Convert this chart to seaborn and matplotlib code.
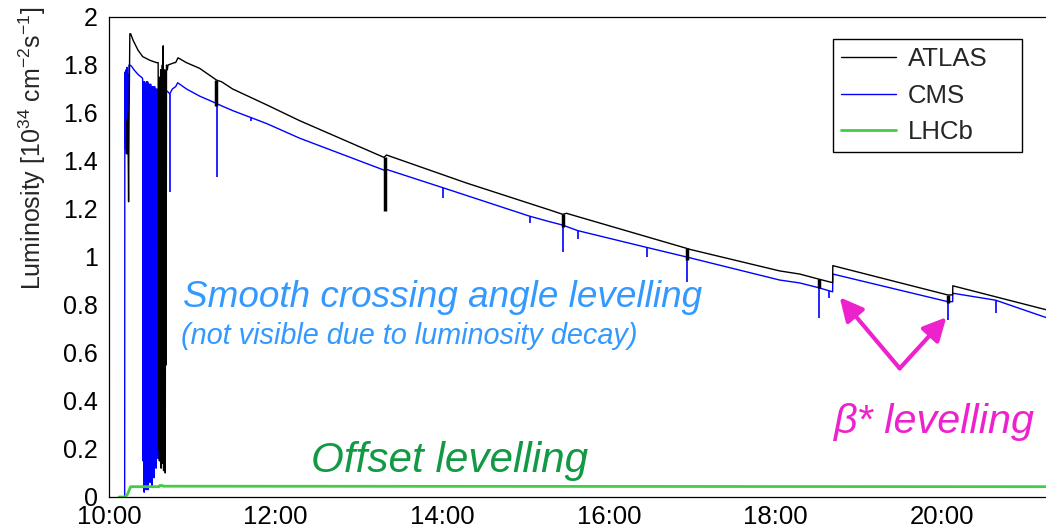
import numpy as np
import pandas as pd
import matplotlib
matplotlib.use("Agg")
import matplotlib.pyplot as plt
import seaborn as sns
from matplotlib.lines import Line2D

# ---------------- data (hours of day, luminosity in 1e34 cm^-2 s^-1) ----------------
atlas_time = [10.215, 10.22, 10.225, 10.23, 10.235, 10.24, 10.25, 10.26, 10.288, 10.348, 10.404, 10.488, 10.568,
              10.59, 10.595, 10.60, 10.605, 10.61, 10.615, 10.62, 10.625, 10.63, 10.635, 10.64, 10.645,
              10.65, 10.655, 10.66, 10.665, 10.67, 10.675, 10.68, 10.685, 10.69, 10.70,
              10.708, 10.788, 10.80, 10.828, 10.928, 11.088, 11.289, 11.352, 11.484, 11.892, 12.288,
              13.30, 13.33, 14.292, 15.288, 15.444, 15.49, 16.932, 16.968, 18.048, 18.288, 18.516,
              18.684, 18.686, 20.064, 20.124, 20.126, 21.26]
atlas_lumi = [1.57, 1.43, 1.60, 1.45, 1.23, 1.55, 1.93, 1.93, 1.904, 1.862, 1.835, 1.82, 1.81,
              1.81, 0.20, 1.75, 0.15, 1.70, 0.18, 1.78, 0.12, 1.72, 0.14, 1.80, 0.16,
              1.88, 0.11, 1.75, 0.13, 1.78, 0.10, 1.77, 0.55, 1.80, 1.78,
              1.80, 1.81, 1.81, 1.83, 1.81, 1.786, 1.7375, 1.73, 1.70, 1.634, 1.568,
              1.415, 1.425, 1.308, 1.196, 1.178, 1.182, 1.036, 1.032, 0.942, 0.929, 0.908,
              0.893, 0.964, 0.842, 0.842, 0.88, 0.779]

cms_time = [10.188, 10.19, 10.20, 10.205, 10.21, 10.215, 10.22, 10.225, 10.23, 10.24, 10.25, 10.27, 10.30, 10.35, 10.40,
            10.404, 10.410, 10.416, 10.422, 10.428, 10.434, 10.440, 10.446, 10.452, 10.458, 10.464, 10.470,
            10.476, 10.482, 10.488, 10.494, 10.500, 10.506, 10.512, 10.518, 10.524, 10.530, 10.536, 10.542,
            10.548, 10.554, 10.560, 10.566, 10.572, 10.578, 10.584, 10.590, 10.596, 10.602, 10.608,
            10.62, 10.66, 10.70, 10.73, 10.76, 10.80, 10.824, 10.93, 11.09, 11.289, 11.35, 11.484, 11.892,
            12.288, 13.30, 13.33, 14.004, 15.048, 15.288, 15.444, 15.624, 16.452, 16.932, 18.048, 18.288,
            18.516, 18.684, 18.686, 20.064, 20.124, 20.126, 20.64, 21.26]
cms_lumi = [0.0, 1.77, 1.45, 1.78, 1.43, 1.79, 1.50, 1.76, 1.55, 1.80, 1.80, 1.795, 1.78, 1.76, 1.746,
            1.74, 0.15, 1.73, 0.02, 1.73, 0.60, 1.72, 0.03, 1.73, 0.25, 1.73, 0.03,
            1.72, 0.45, 1.72, 0.06, 1.72, 0.30, 1.71, 0.04, 1.71, 0.10, 1.71, 0.08,
            1.71, 0.20, 1.70, 0.12, 1.70, 0.35, 1.70, 0.16, 1.69, 0.90, 1.69,
            1.69, 1.70, 1.69, 1.68, 1.70, 1.71, 1.726, 1.70, 1.67, 1.64, 1.63, 1.61, 1.556,
            1.495, 1.362, 1.365, 1.289, 1.17, 1.147, 1.133, 1.11, 1.04, 1.0, 0.904, 0.892,
            0.872, 0.855, 0.929, 0.814, 0.814, 0.849, 0.82, 0.746]

lhcb_time = [10.12, 10.19, 10.22, 10.26, 10.60, 10.61, 10.64, 10.65, 21.26]
lhcb_lumi = [0.0, 0.0, 0.01, 0.043, 0.043, 0.048, 0.048, 0.045, 0.043]

# short drops (time, lowest value)
cms_dip_time = [10.73, 11.292, 11.70, 11.77, 13.308, 14.004, 15.048, 15.444, 15.624, 16.452, 16.932,
                18.516, 18.636, 20.064, 20.64]
cms_dip_low = [1.27, 1.335, 1.565, 1.57, 1.19, 1.245, 1.14, 1.022, 1.075, 1.00, 0.897,
               0.745, 0.83, 0.738, 0.768]
atlas_dip_time = [11.29, 13.31, 15.444, 16.932, 18.516, 20.064]
atlas_dip_low = [1.63, 1.19, 1.126, 0.988, 0.87, 0.81]

series_names = ["ATLAS", "CMS", "LHCb"]
series_colors = ["#000000", "#0000ff", "#44cc44"]

x_tick_hours = [10, 12, 14, 16, 18, 20]
x_tick_labels = ["10:00", "12:00", "14:00", "16:00", "18:00", "20:00"]
y_tick_values = [0, 0.2, 0.4, 0.6, 0.8, 1.0, 1.2, 1.4, 1.6, 1.8, 2.0]
y_tick_labels = ["0", "0.2", "0.4", "0.6", "0.8", "1", "1.2", "1.4", "1.6", "1.8", "2"]

# ---------------- styling ----------------
sns.set_style("white")
plt.rcParams["font.family"] = ["Liberation Sans", "DejaVu Sans"]
plt.rcParams["mathtext.fontset"] = "custom"
plt.rcParams["mathtext.rm"] = "Liberation Sans"
plt.rcParams["mathtext.it"] = "Liberation Sans:italic"

W, H = 1046, 529
fig = plt.figure(figsize=(W / 100, H / 100), dpi=100)
x0, ybot, ytop = 109, 497, 17
ax = fig.add_axes([x0 / W, (H - ybot) / H, (W - x0) / W, (ybot - ytop) / H])

df_cms = pd.DataFrame({"t": cms_time, "L": cms_lumi})
df_atlas = pd.DataFrame({"t": atlas_time, "L": atlas_lumi})
df_lhcb = pd.DataFrame({"t": lhcb_time, "L": lhcb_lumi})

sns.lineplot(data=df_cms, x="t", y="L", ax=ax, color=series_colors[1], lw=1.0,
             estimator=None, sort=False)
ax.vlines(cms_dip_time, cms_dip_low, np.interp(cms_dip_time, cms_time, cms_lumi),
          color=series_colors[1], lw=1.2)
sns.lineplot(data=df_atlas, x="t", y="L", ax=ax, color=series_colors[0], lw=1.0,
             estimator=None, sort=False)
ax.vlines(atlas_dip_time, atlas_dip_low, np.interp(atlas_dip_time, atlas_time, atlas_lumi),
          color=series_colors[0], lw=2.5)
sns.lineplot(data=df_lhcb, x="t", y="L", ax=ax, color=series_colors[2], lw=2.0,
             estimator=None, sort=False)

ax.set_xlim(10.0, 10.0 + (W - x0) / 83.33)
ax.set_ylim(0, 2)
ax.set_xlabel("")
ax.set_ylabel("")
ax.set_xticks(x_tick_hours)
ax.set_xticklabels(x_tick_labels)
ax.set_xticks(np.arange(10, 21.5, 0.5), minor=True)
ax.set_yticks(y_tick_values)
ax.set_yticklabels(y_tick_labels)
ax.set_yticks(np.arange(0, 2.001, 0.05), minor=True)
ax.tick_params(axis="x", which="major", direction="in", length=9.5, width=0.9, labelsize=18.5, pad=6, colors="black")
ax.tick_params(axis="x", which="minor", direction="in", length=5, width=0.9)
ax.tick_params(axis="y", which="major", direction="in", length=20, width=0.9, labelsize=18, pad=8, colors="black")
ax.tick_params(axis="y", which="minor", direction="in", length=14, width=0.9)
for s in ["left", "bottom", "top"]:
    ax.spines[s].set_color("black")
    ax.spines[s].set_linewidth(0.9)
ax.spines["right"].set_visible(False)

fig.text(32 / W, (H - 148) / H, r"Luminosity [10$^{34}$ cm$^{-2}$s$^{-1}$]", rotation=90,
         ha="center", va="center", fontsize=18)

# legend
handles = [Line2D([], [], color=series_colors[0], lw=1.0),
           Line2D([], [], color=series_colors[1], lw=1.0),
           Line2D([], [], color=series_colors[2], lw=2.0)]
leg = ax.legend(handles, series_names, loc="upper left",
                bbox_to_anchor=(833 / W, (H - 152) / H, 189 / W, 113 / H), bbox_transform=fig.transFigure,
                mode="expand",
                fontsize=18.5, frameon=True, fancybox=False, framealpha=1, edgecolor="black",
                handlelength=2.15, handletextpad=0.45, labelspacing=0.5, borderpad=0.3,
                borderaxespad=0)
leg.get_frame().set_linewidth(1.0)

# annotations
def ftxt(px, py, s, **kw):
    fig.text(px / W, (H - py) / H, s, **kw)

ftxt(183, 307, "Smooth crossing angle levelling", color="#3399ff", fontsize=26.6,
     style="italic", va="baseline", ha="left")
ftxt(181, 344, "(not visible due to luminosity decay)", color="#3399ff", fontsize=20.8,
     style="italic", va="baseline", ha="left")
ftxt(311, 472, "Offset levelling", color="#119944", fontsize=30.4,
     style="italic", va="baseline", ha="left")
ftxt(833, 433, "\u03b2* levelling", color="#ee22cc", fontsize=29.8,
     style="italic", va="baseline", ha="left")

arrow_vertex = (19.489, 0.536)
arrow_tips = [(18.769, 0.832), (20.049, 0.749)]
for tip in arrow_tips:
    ax.annotate("", xy=tip, xytext=arrow_vertex,
                arrowprops=dict(arrowstyle="-|>,head_length=1.4,head_width=0.7",
                                color="#ee22cc", lw=3, shrinkA=0, shrinkB=0,
                                mutation_scale=10))

fig.savefig("out.png", dpi=100)
